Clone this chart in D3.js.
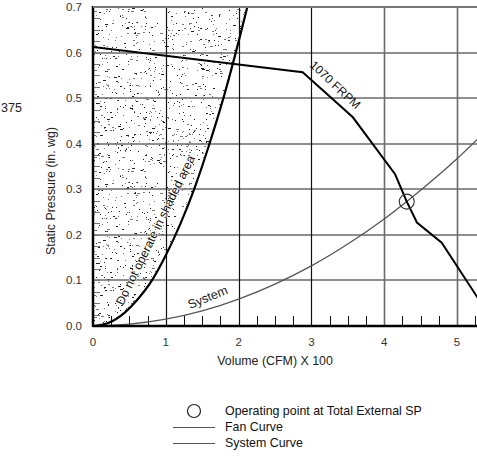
<!DOCTYPE html>
<html>
<head>
<meta charset="utf-8">
<script src="https://cdn.jsdelivr.net/npm/d3@7"></script>
<style>
  body { margin: 0; background: #fff; }
  svg { display: block; font-family: "Liberation Sans", Arial, sans-serif; }
</style>
</head>
<body>
<script>
// Chart data.
var xTicks = [0, 1, 2, 3, 4, 5];
var yTicks = [0.0, 0.1, 0.2, 0.3, 0.4, 0.5, 0.6, 0.7];
var fanX = [0, 2.88, 3.57, 4.15, 4.31, 4.45, 4.79, 5.3];
var fanY = [0.612, 0.557, 0.458, 0.333, 0.273, 0.227, 0.183, 0.058];
var sysX = [0, 0.5, 1, 1.5, 2, 2.5, 3, 3.5, 4, 4.5, 5, 5.3];
var sysY = [0, 0.004, 0.015, 0.033, 0.059, 0.092, 0.132, 0.18, 0.235, 0.298, 0.367, 0.413];
var limitX = [0, 0.2, 0.44, 0.6, 0.81, 1.0, 1.2, 1.4, 1.6, 1.8, 2.0, 2.12];
var limitY = [0, 0.006, 0.03, 0.056, 0.1, 0.155, 0.224, 0.305, 0.4, 0.505, 0.624, 0.7];
var opPoint = [4.31, 0.273];
var legendItems = ["Operating point at Total External SP", "Fan Curve", "System Curve"];

var width = 477, height = 456;
var svg = d3.select("body").append("svg")
        .attr("width", width)
        .attr("height", height);

var x = d3.scaleLinear().domain([0, 5]).range([93, 457]);
var y = d3.scaleLinear().domain([0, 0.7]).range([326, 7]);

// Stipple texture for the no-go area (seeded so it is the same every run).
var rnd = d3.randomLcg(0.37);
var defs = svg.append("defs");
var tile = 160;
var pat = defs.append("pattern")
        .attr("id", "stipple")
        .attr("patternUnits", "userSpaceOnUse")
        .attr("width", tile).attr("height", tile);
for (var i = 0; i < 950; i++) {
    var r = rnd();
    pat.append("rect")
        .attr("x", Math.floor(rnd() * tile))
        .attr("y", Math.floor(rnd() * tile))
        .attr("width", r < 0.08 ? 3 : (r < 0.3 ? 2 : 1))
        .attr("height", 1)
        .attr("fill", rnd() < 0.45 ? "#222" : "#777");
}
defs.append("clipPath").attr("id", "plotClip")
    .append("rect")
    .attr("x", x(0)).attr("y", y(0.7))
    .attr("width", width - x(0)).attr("height", y(0) - y(0.7));

var plot = svg.append("g").attr("clip-path", "url(#plotClip)");

// Shaded area
var limitPts = limitX.map(function(d, i) { return [d, limitY[i]]; });
var area = d3.area()
        .x0(x(0))
        .x1(function(d) { return x(d[0]); })
        .y(function(d) { return y(d[1]); })
        .curve(d3.curveMonotoneX);
plot.append("path")
    .datum(limitPts)
    .attr("d", area)
    .attr("fill", "url(#stipple)");

// Grid
plot.selectAll(".hgrid").data(yTicks.slice(1)).enter().append("line")
    .attr("x1", x(0)).attr("x2", width)
    .attr("y1", function(d) { return Math.round(y(d)); })
    .attr("y2", function(d) { return Math.round(y(d)); })
    .attr("stroke", "#6a6a6a").attr("stroke-width", 1.6);
plot.selectAll(".vgrid").data(xTicks.slice(1)).enter().append("line")
    .attr("x1", function(d) { return Math.round(x(d)) + 0.5; })
    .attr("x2", function(d) { return Math.round(x(d)) + 0.5; })
    .attr("y1", y(0.7)).attr("y2", y(0))
    .attr("stroke", function(d) { return d < 4 ? "#111" : "#6a6a6a"; })
    .attr("stroke-width", function(d) { return d < 4 ? 1.2 : 1.6; });

// Minor ticks
var minorX = d3.range(0.25, 5.3, 0.25).filter(function(d) { return Math.abs(d - Math.round(d)) > 0.01; });
plot.selectAll(".mx").data(minorX).enter().append("line")
    .attr("x1", function(d) { return Math.round(x(d)) + 0.5; })
    .attr("x2", function(d) { return Math.round(x(d)) + 0.5; })
    .attr("y1", y(0)).attr("y2", y(0) - 10)
    .attr("stroke", "#111").attr("stroke-width", 1);
var minorY = d3.range(0.025, 0.7, 0.025);
plot.selectAll(".my").data(minorY).enter().append("line")
    .attr("x1", x(0)).attr("x2", x(0) + 7)
    .attr("y1", function(d) { return Math.round(y(d)) + 0.5; })
    .attr("y2", function(d) { return Math.round(y(d)) + 0.5; })
    .attr("stroke", "#777").attr("stroke-width", 1);

// Curves
var line = d3.line()
        .x(function(d) { return x(d[0]); })
        .y(function(d) { return y(d[1]); });
plot.append("path")
    .datum(limitPts)
    .attr("d", line.curve(d3.curveMonotoneX))
    .attr("fill", "none").attr("stroke", "#000").attr("stroke-width", 2.2);
plot.append("path")
    .datum(sysX.map(function(d, i) { return [d, sysY[i]]; }))
    .attr("d", line.curve(d3.curveMonotoneX))
    .attr("fill", "none").attr("stroke", "#555").attr("stroke-width", 1.3);
plot.append("path")
    .datum(fanX.map(function(d, i) { return [d, fanY[i]]; }))
    .attr("d", line.curve(d3.curveLinear))
    .attr("fill", "none").attr("stroke", "#000").attr("stroke-width", 2);
plot.append("circle")
    .attr("cx", x(opPoint[0])).attr("cy", y(opPoint[1]))
    .attr("r", 7.5)
    .attr("fill", "none").attr("stroke", "#333").attr("stroke-width", 1.1);

// Axes lines
svg.append("line")
    .attr("x1", x(0)).attr("x2", x(0)).attr("y1", y(0.7) - 1).attr("y2", y(0) + 1)
    .attr("stroke", "#000").attr("stroke-width", 2.5);
svg.append("line")
    .attr("x1", x(0)).attr("x2", width).attr("y1", y(0)).attr("y2", y(0))
    .attr("stroke", "#000").attr("stroke-width", 2.5);
svg.append("line")
    .attr("x1", x(0)).attr("x2", width).attr("y1", y(0.7)).attr("y2", y(0.7))
    .attr("stroke", "#777").attr("stroke-width", 2);

// Tick labels
svg.selectAll(".yl").data(yTicks).enter().append("text")
    .attr("x", 82).attr("y", function(d) { return y(d) + 4; })
    .attr("text-anchor", "end")
    .attr("font-size", 11.5).attr("fill", "#333")
    .text(function(d) { return d3.format(".1f")(d); });
svg.selectAll(".xl").data(xTicks).enter().append("text")
    .attr("x", function(d) { return x(d); }).attr("y", 346)
    .attr("text-anchor", "middle")
    .attr("font-size", 11.5).attr("fill", "#333")
    .text(function(d) { return d; });

svg.append("text")
    .attr("x", 275).attr("y", 365)
    .attr("text-anchor", "middle")
    .attr("font-size", 12.4).attr("fill", "#222")
    .text("Volume (CFM) X 100");
svg.append("text")
    .attr("transform", "translate(55,191) rotate(-90)")
    .attr("text-anchor", "middle")
    .attr("font-size", 12.4).attr("fill", "#222")
    .text("Static Pressure (in. wg)");

// Stray text from outside the crop
svg.append("text")
    .attr("x", 1).attr("y", 112)
    .attr("font-size", 12.5).attr("fill", "#222")
    .text("375");

// Curve labels
svg.append("text")
    .attr("transform", "translate(309,66) rotate(43)")
    .attr("font-size", 12).attr("fill", "#111")
    .text("1070 FRPM");
svg.append("text")
    .attr("transform", "translate(190,309) rotate(-22)")
    .attr("font-size", 12.5).attr("fill", "#222")
    .text("System");
svg.append("text")
    .attr("transform", "translate(123,306) rotate(-64)")
    .attr("font-size", 12.2).attr("fill", "#111")
    .attr("stroke", "#fff").attr("stroke-width", 1)
    .attr("paint-order", "stroke")
    .text("Do not operate in shaded area");

// Legend
var legend = svg.append("g");
legend.append("circle")
    .attr("cx", 194).attr("cy", 411).attr("r", 6.5)
    .attr("fill", "none").attr("stroke", "#222").attr("stroke-width", 1.2);
legend.selectAll(".ll").data(legendItems.slice(1)).enter().append("line")
    .attr("x1", 173).attr("x2", 215)
    .attr("y1", function(d, i) { return 427.5 + i * 16; })
    .attr("y2", function(d, i) { return 427.5 + i * 16; })
    .attr("stroke", "#555").attr("stroke-width", 1.2);
legend.selectAll(".lt").data(legendItems).enter().append("text")
    .attr("x", 225)
    .attr("y", function(d, i) { return 415 + i * 16; })
    .attr("font-size", 12.4).attr("fill", "#111")
    .text(function(d) { return d; });
</script>
</body>
</html>
